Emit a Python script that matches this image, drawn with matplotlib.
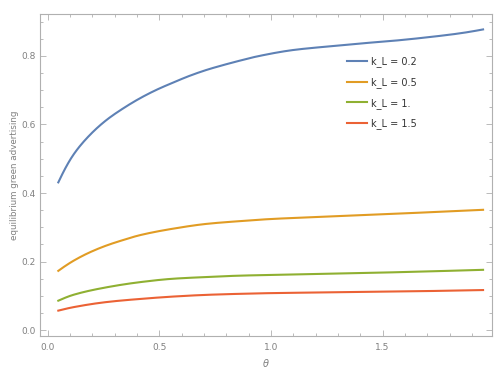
import matplotlib
matplotlib.use("Agg")
import matplotlib.pyplot as plt
import numpy as np
from matplotlib.ticker import MultipleLocator, FormatStrFormatter

theta_blue = [0.048, 0.115, 0.189, 0.264, 0.339, 0.413, 0.488, 0.562, 0.637, 0.712, 0.786, 0.861, 0.936, 1.10, 1.25, 1.40, 1.55, 1.70, 1.85, 1.95]
blue = [0.431, 0.511, 0.569, 0.613, 0.647, 0.676, 0.701, 0.722, 0.742, 0.759, 0.773, 0.786, 0.798, 0.817, 0.827, 0.836, 0.844, 0.854, 0.866, 0.877]

theta_orange = [0.048, 0.115, 0.189, 0.264, 0.339, 0.413, 0.562, 0.712, 0.861, 0.996, 1.205, 1.503, 1.95]
orange = [0.173, 0.202, 0.227, 0.247, 0.263, 0.277, 0.296, 0.310, 0.318, 0.324, 0.330, 0.338, 0.351]

theta_green = [0.048, 0.115, 0.264, 0.413, 0.562, 0.712, 0.861, 0.996, 1.503, 1.95]
green = [0.086, 0.103, 0.125, 0.140, 0.150, 0.155, 0.159, 0.161, 0.168, 0.176]

theta_red = [0.048, 0.115, 0.264, 0.413, 0.562, 0.712, 0.861, 0.996, 1.503, 1.95]
red = [0.057, 0.067, 0.082, 0.091, 0.098, 0.103, 0.106, 0.108, 0.112, 0.117]

labels = ["k_L = 0.2", "k_L = 0.5", "k_L = 1.", "k_L = 1.5"]
colors = ["#5E81B5", "#E19C24", "#8FB032", "#EB6235"]


def _end_slope(h0, h1, d0, d1):
    m = ((2*h0 + h1)*d0 - h0*d1) / (h0 + h1)
    if np.sign(m) != np.sign(d0):
        m = 0.0
    elif np.sign(d0) != np.sign(d1) and abs(m) > abs(3*d0):
        m = 3*d0
    return m


def smooth(xs, ys, n=300):
    xs = np.asarray(xs, float); ys = np.asarray(ys, float)
    xx = np.linspace(xs[0], xs[-1], n)
    h = np.diff(xs); d = np.diff(ys) / h
    m = np.zeros_like(ys)
    m[0] = _end_slope(h[0], h[1], d[0], d[1])
    m[-1] = _end_slope(h[-1], h[-2], d[-1], d[-2])
    for i in range(1, len(xs) - 1):
        if d[i-1] * d[i] <= 0:
            m[i] = 0
        else:
            w1 = 2*h[i] + h[i-1]; w2 = h[i] + 2*h[i-1]
            m[i] = (w1 + w2) / (w1/d[i-1] + w2/d[i])
    idx = np.clip(np.searchsorted(xs, xx) - 1, 0, len(xs) - 2)
    t = (xx - xs[idx]) / h[idx]
    h00 = 2*t**3 - 3*t**2 + 1; h10 = t**3 - 2*t**2 + t
    h01 = -2*t**3 + 3*t**2; h11 = t**3 - t**2
    yy = h00*ys[idx] + h10*h[idx]*m[idx] + h01*ys[idx+1] + h11*h[idx]*m[idx+1]
    return xx, yy


fig = plt.figure(figsize=(5.03, 3.72), dpi=100)
ax = fig.add_axes([40/503, 1-336/372, 452/503, 322/372])

series = [(theta_blue, blue), (theta_orange, orange), (theta_green, green), (theta_red, red)]
for (xs, ys), lab, c in zip(series, labels, colors):
    xx, yy = smooth(xs, ys)
    ax.plot(xx, yy, color=c, lw=1.5, label=lab)

ax.set_xlim(-0.034, 1.99)
ax.set_ylim(-0.017, 0.922)
ax.xaxis.set_major_locator(MultipleLocator(0.5))
ax.xaxis.set_minor_locator(MultipleLocator(0.1))
ax.yaxis.set_major_locator(MultipleLocator(0.2))
ax.yaxis.set_minor_locator(MultipleLocator(0.05))
ax.xaxis.set_major_formatter(FormatStrFormatter('%.1f'))
ax.yaxis.set_major_formatter(FormatStrFormatter('%.1f'))

fc = "#b0b0b0"
for s in ax.spines.values():
    s.set_color(fc)
    s.set_linewidth(0.8)
ax.tick_params(which='both', direction='in', top=True, right=True, labeltop=False, labelright=False,
               color=fc, labelcolor="#808080", labelsize=6.5, width=0.6)
ax.tick_params(which='major', length=4)
ax.tick_params(axis='x', which='major', pad=5)
ax.tick_params(axis='y', which='major', pad=3)
ax.tick_params(which='minor', length=2)

ax.set_xlabel("θ", style='italic', color="#808080", fontsize=7, labelpad=5)
ax.set_ylabel("equilibrium green advertising", color="#808080", fontsize=6.3, labelpad=2)

leg = ax.legend(loc='upper left', bbox_to_anchor=(0.66, 0.895), frameon=False, fontsize=7,
                handlelength=2.0, handletextpad=0.5, labelspacing=1.0)
for t in leg.get_texts():
    t.set_color("#333333")

fig.savefig("out.png", dpi=100)
